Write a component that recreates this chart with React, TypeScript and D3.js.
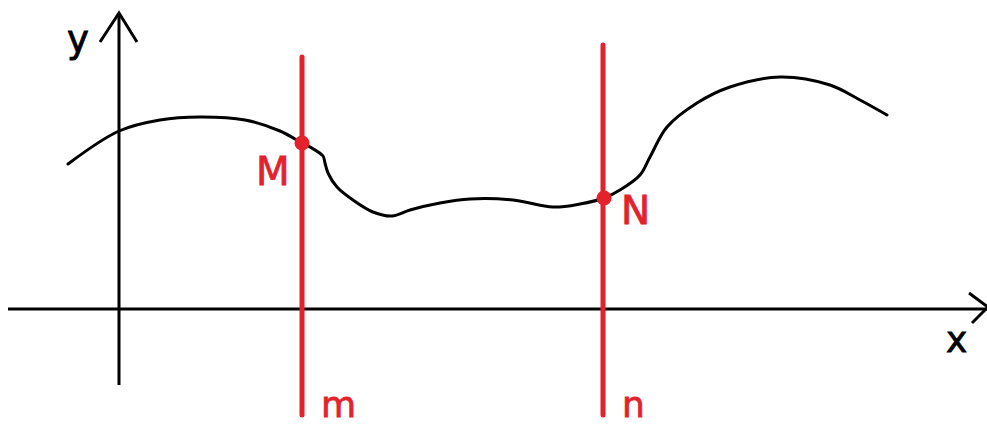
import React from 'react';
import * as d3 from 'd3';

// curve (x, y in sketch units, origin at the axes crossing)
const curveX = [-0.51, 0, 0.41, 0.81, 1.26, 1.61, 1.83, 1.91, 2.04, 2.06, 2.09, 2.18, 2.34, 2.54, 2.73, 2.91, 3.21, 3.51, 3.94, 4.34, 4.61, 4.85, 5.01, 5.21, 5.31, 5.48, 5.78, 6.11, 6.61, 7.11, 7.41, 7.68];
const curveY = [1.45, 1.78, 1.89, 1.92, 1.89, 1.78, 1.66, 1.62, 1.53, 1.46, 1.36, 1.22, 1.09, 0.97, 0.93, 0.99, 1.06, 1.1, 1.09, 1.02, 1.05, 1.11, 1.19, 1.34, 1.52, 1.82, 2.06, 2.22, 2.32, 2.24, 2.09, 1.94];

// vertical lines m and n
const lineNames = ['m', 'n'];
const lineX = [1.83, 4.84];
const lineTop = [2.52, 2.64];
const lineBottom = -1.06;

// marked points
const pointNames = ['M', 'N'];
const pointX = [1.83, 4.85];
const pointY = [1.66, 1.11];

// axes extents
const xAxisRange = [-1.11, 8.69];
const yAxisRange = [-0.76, 2.96];

const RED = '#e3222b';
const FONT = '"DejaVu Sans", Verdana, sans-serif';

export default function App() {
  const width = 987;
  const height = 425;
  const x = d3.scaleLinear().domain([0, 8]).range([119, 919]);
  const y = d3.scaleLinear().domain([0, 3]).range([309, 9]);

  const pts: [number, number][] = curveX.map((v, i) => [v, curveY[i]]);
  const line = d3
    .line<[number, number]>()
    .x(d => x(d[0]))
    .y(d => y(d[1]))
    .curve(d3.curveCatmullRom.alpha(0.5));

  const seg = d3
    .line<[number, number]>()
    .x(d => x(d[0]))
    .y(d => y(d[1]));

  // arrow heads
  const yArrow: [number, number][] = [[-0.19, 2.67], [0, yAxisRange[1]], [0.18, 2.67]];
  const xArrow: [number, number][] = [[8.5, 0.16], [xAxisRange[1], 0.02], [8.53, -0.14]];

  return (
    <svg
      width={width}
      height={height}
      style={{ position: 'absolute', left: 0, top: 0, background: '#fff' }}
    >
      {/* axes */}
      <path d={seg([[xAxisRange[0], 0], [xAxisRange[1], 0]]) || ''} stroke="#000" strokeWidth={3} fill="none" />
      <path d={seg([[0, yAxisRange[0]], [0, yAxisRange[1]]]) || ''} stroke="#000" strokeWidth={3} fill="none" />
      <path d={seg(yArrow) || ''} stroke="#000" strokeWidth={3} fill="none" strokeLinejoin="miter" />
      <path d={seg(xArrow) || ''} stroke="#000" strokeWidth={3} fill="none" strokeLinejoin="miter" />
      <text x={x(-0.52)} y={y(2.57)} fontFamily={FONT} fontSize={37} fill="#000" stroke="#000" strokeWidth={0.8}>y</text>
      <text x={x(8.27)} y={y(-0.43)} fontFamily={FONT} fontSize={36} fill="#000" stroke="#000" strokeWidth={0.8}>x</text>

      {/* curve */}
      <path d={line(pts) || ''} stroke="#000" strokeWidth={3} fill="none" strokeLinecap="round" />

      {/* vertical lines */}
      {lineNames.map((name, i) => (
        <g key={name}>
          <path
            d={seg([[lineX[i], lineTop[i]], [lineX[i], lineBottom]]) || ''}
            stroke={RED}
            strokeWidth={5}
            strokeLinecap="round"
            fill="none"
          />
          <text x={x(lineX[i]) + 19} y={y(-1.08)} fontFamily={FONT} fontSize={36} fill={RED} stroke={RED} strokeWidth={0.8}>
            {name}
          </text>
        </g>
      ))}

      {/* points */}
      {pointNames.map((name, i) => (
        <circle key={name} cx={x(pointX[i])} cy={y(pointY[i])} r={7.5} fill={RED} />
      ))}
      <text x={x(pointX[0]) - 46} y={y(pointY[0]) + 42} fontFamily={FONT} fontSize={39} fill={RED} stroke={RED} strokeWidth={0.8}>M</text>
      <text x={x(pointX[1]) + 17} y={y(pointY[1]) + 26} fontFamily={FONT} fontSize={39} fill={RED} stroke={RED} strokeWidth={0.8}>N</text>
    </svg>
  );
}
